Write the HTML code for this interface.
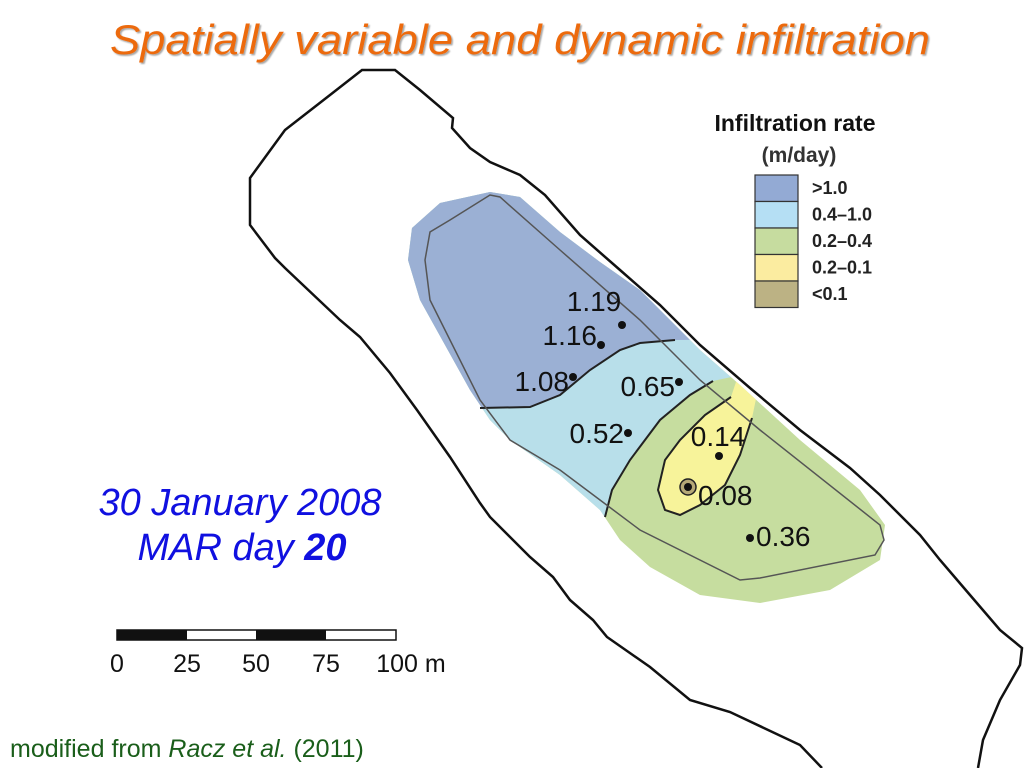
<!DOCTYPE html>
<html><head><meta charset="utf-8"><style>
html,body{margin:0;padding:0;background:#fff}
svg{display:block}
</style></head><body>
<svg width="1024" height="768" viewBox="0 0 1024 768" xmlns="http://www.w3.org/2000/svg" font-family="Liberation Sans, sans-serif">
<defs>
<clipPath id="zone"><path d="M490,192 L520,197 L560,232 L600,262 L640,290 L675,325 L700,350 L740,385 L800,440 L860,490 L885,525 L880,560 L830,590 L760,603 L700,595 L650,567 L620,540 L600,510 L560,475 L510,440 L490,420 L470,390 L445,345 L420,300 L408,260 L412,228 L440,203 Z"/></clipPath>
<filter id="sh"><feDropShadow dx="1.5" dy="1.5" stdDeviation="0.8" flood-color="#000" flood-opacity="0.35"/></filter>
</defs>

<text x="110" y="54" textLength="820" lengthAdjust="spacingAndGlyphs" font-size="42" font-style="italic" fill="#ec6b10" filter="url(#sh)">Spatially variable and dynamic infiltration</text>

<path d="M978,768 L983,740 L1000,700 L1020,665 L1022,648 L1000,630 L970,595 L940,560 L920,535 L880,495 L850,468 L800,430 L750,388 L700,345 L660,305 L620,270 L580,235 L545,195 L520,175 L490,162 L470,148 L452,128 L453,118 L420,90 L395,70 L362,70 L330,95 L285,130 L250,178 L250,225 L275,258 L285,268 L340,320 L360,337 L390,373 L417,410 L450,457 L480,503 L490,517 L530,557 L553,577 L570,600 L593,620 L607,637 L650,667 L690,700 L730,712 L800,745 L822,768" fill="none" stroke="#111" stroke-width="2.5"/>

<g clip-path="url(#zone)">
<rect x="380" y="180" width="520" height="440" fill="#c6dd9f"/>
<path d="M380,180 L900,180 L900,340 L713,381 L690,395 L660,420 L630,460 L612,490 L605,517 L380,600 Z" fill="#b8dfea"/>
<path d="M380,180 L900,180 L900,338 L675,340 L640,343 L620,350 L590,370 L560,395 L530,407 L480,408 L380,410 Z" fill="#9bb0d4"/>
<path d="M731,397 L705,415 L680,440 L665,460 L658,490 L665,510 L680,515 L700,505 L725,485 L740,455 L752,418 L760,380 L740,370 Z" fill="#f7f39a"/>
</g>
<path d="M480,408 L530,407 L560,395 L590,370 L620,350 L640,343 L675,340" fill="none" stroke="#222" stroke-width="2"/>
<path d="M605,517 L612,490 L630,460 L660,420 L690,395 L713,381" fill="none" stroke="#222" stroke-width="2"/>
<path d="M731,397 L705,415 L680,440 L665,460 L658,490 L665,510 L680,515 L700,505 L725,485 L740,455 L752,418" fill="none" stroke="#222" stroke-width="2"/>
<path d="M450,220 L490,195 L500,197 L560,250 L640,320 L700,380 L760,430 L880,525 L884,540 L875,555 L760,578 L740,580 L640,530 L600,500 L560,470 L510,440 L480,400 L430,300 L425,260 L430,232 Z" fill="none" stroke="#555" stroke-width="1.5"/>

<g id="sites"></g>

<text x="795" y="131" text-anchor="middle" font-size="23" font-weight="bold" fill="#111">Infiltration rate</text>
<text x="799" y="162" text-anchor="middle" font-size="21" font-weight="bold" fill="#333">(m/day)</text>
<g id="legend"></g>

<text x="240" y="515" text-anchor="middle" font-size="38" font-style="italic" fill="#1010e0">30 January 2008</text>
<text x="242" y="560" text-anchor="middle" font-size="38" font-style="italic" fill="#1010e0">MAR day <tspan font-weight="bold">20</tspan></text>

<g>
<rect x="117" y="630" width="279" height="10" fill="#fff" stroke="#111" stroke-width="1.5"/>
<rect x="117" y="630" width="70" height="10" fill="#111"/>
<rect x="256" y="630" width="70" height="10" fill="#111"/>
<g font-size="25" fill="#111" text-anchor="middle">
<text x="117" y="672">0</text><text x="187" y="672">25</text><text x="256" y="672">50</text><text x="326" y="672">75</text><text x="411" y="672">100 m</text>
</g>
</g>

<text x="10" y="757" font-size="25" fill="#1a5e1a">modified from <tspan font-style="italic">Racz et al.</tspan> (2011)</text>
</svg>
<script>
const siteValues=["1.19","1.16","1.08","0.65","0.52","0.14","0.08","0.36"];
const siteX=[622,601,573,679,628,719,688,750];
const siteY=[325,345,377,382,433,456,487,538];
const labelDX=[-28,-4,-4,-4,-4,-1,10,6];
const labelDY=[-14,0,14,14,10,-10,18,8];
const labelAnchor=["middle","end","end","end","end","middle","start","start"];
const legendLabels=[">1.0","0.4–1.0","0.2–0.4","0.2–0.1","<0.1"];
const legendColors=["#93aad4","#b5dff4","#c6dc9f","#fbeca0","#bcb284"];
const NS="http://www.w3.org/2000/svg";
const sites=document.getElementById('sites');
siteValues.forEach((v,i)=>{
  if(v==="0.08"){
    const r=document.createElementNS(NS,'circle');
    r.setAttribute('cx',siteX[i]);r.setAttribute('cy',siteY[i]);r.setAttribute('r',8);
    r.setAttribute('fill','#b6a977');r.setAttribute('stroke','#222');r.setAttribute('stroke-width','1.5');
    
    
    sites.appendChild(r);
  }
  const c=document.createElementNS(NS,'circle');
  c.setAttribute('cx',siteX[i]);c.setAttribute('cy',siteY[i]);c.setAttribute('r',4);c.setAttribute('fill','#111');
  
  
  sites.appendChild(c);
  const t=document.createElementNS(NS,'text');
  t.setAttribute('x',siteX[i]+labelDX[i]);
  t.setAttribute('y',siteY[i]+labelDY[i]);
  t.setAttribute('text-anchor',labelAnchor[i]);t.setAttribute('font-size','28');t.setAttribute('fill','#111');
  
  
  t.textContent=v;
  sites.appendChild(t);
});
const lg=document.getElementById('legend');
legendLabels.forEach((l,i)=>{
  const y=175+i*26.5;
  const r=document.createElementNS(NS,'rect');
  r.setAttribute('x',755);r.setAttribute('y',y);r.setAttribute('width',43);r.setAttribute('height',26.5);
  r.setAttribute('fill',legendColors[i]);r.setAttribute('stroke','#333');r.setAttribute('stroke-width','1.2');
  
  
  lg.appendChild(r);
  const t=document.createElementNS(NS,'text');
  t.setAttribute('x',812);t.setAttribute('y',y+19);t.setAttribute('font-size','18');t.setAttribute('font-weight','bold');t.setAttribute('fill','#222');
  
  
  t.textContent=l;
  lg.appendChild(t);
});
</script>
</body></html>
